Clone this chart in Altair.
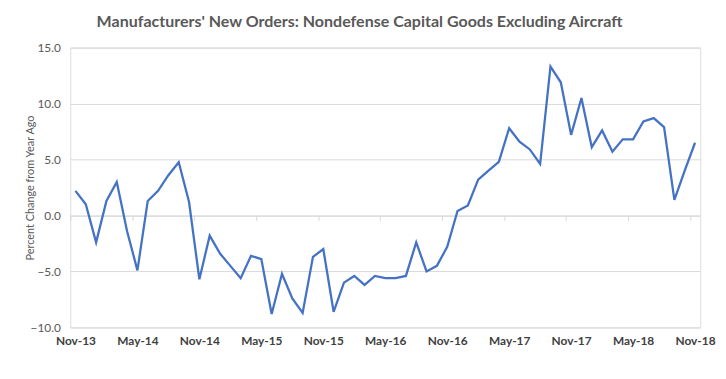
import altair as alt
import pandas as pd

title_text = "Manufacturers' New Orders: Nondefense Capital Goods Excluding Aircraft"
y_title = "Percent Change from Year Ago"

months = list(pd.date_range("2013-11-01", "2018-11-01", freq="MS").strftime("%b-%y"))
values = [2.2, 1.0, -2.4, 1.3, 3.0, -1.4, -4.9, 1.3, 2.2, 3.6, 4.75, 1.2,
          -5.7, -1.8, -3.4, -4.5, -5.6, -3.6, -3.9, -8.8, -5.2, -7.4, -8.7, -3.7,
          -3.0, -8.6, -6.0, -5.4, -6.2, -5.4, -5.6, -5.6, -5.4, -2.4, -5.0, -4.5,
          -2.8, 0.4, 0.9, 3.2, 4.0, 4.8, 7.8, 6.6, 5.9, 4.6, 13.3, 11.9,
          7.2, 10.5, 6.1, 7.6, 5.7, 6.8, 6.8, 8.4, 8.7, 7.9, 1.4, 4.0, 6.5]
y_ticks = [-10, -5, 0, 5, 10, 15]
x_tick_idx = list(range(0, 61, 6))
x_tick_labels = [months[i] for i in x_tick_idx]

df = pd.DataFrame({"idx": list(range(len(values))), "month": months, "value": values})

W, H = 637, 283
half = W / 61 / 2
zero_off = H * 10 / 25

label_expr = "[" + ",".join("'%s'" % s for s in x_tick_labels) + "][round(datum.value/6)]"

chart = alt.Chart(df).mark_line(color="#4472C4", strokeWidth=2.3).encode(
    x=alt.X("idx:Q", scale=alt.Scale(domain=[-0.5, 60.5], nice=False, zero=False),
            axis=alt.Axis(values=x_tick_idx, labelExpr=label_expr, title=None, grid=False,
                          orient="bottom", offset=-zero_off, domainColor="#d9d9d9",
                          tickColor="#d9d9d9", tickSize=5, tickOffset=-half, labelOffset=half,
                          labelPadding=zero_off + 3, labelFont="Lato", labelFontSize=12,
                          labelFontWeight="bold", labelColor="#404040")),
    y=alt.Y("value:Q", scale=alt.Scale(domain=[-10, 15], nice=False),
            axis=alt.Axis(values=y_ticks, format=".1f", title=y_title, domain=False, ticks=False,
                          gridColor="#d9d9d9", labelFont="Lato", labelFontSize=12,
                          labelColor="#595959", labelPadding=10, titleFont="Lato",
                          titleFontSize=11, titleFontWeight="normal", titleColor="#595959",
                          titlePadding=-5)),
).properties(
    width=W, height=H,
    title=alt.TitleParams(title_text, font="Lato", fontSize=16.2, fontWeight="bold",
                          color="#595959", anchor="middle", dx=-26, offset=12),
    autosize=alt.AutoSizeParams(type="none"),
    padding={"left": 63, "top": 38, "right": 18, "bottom": 40},
).configure_view(stroke=None).configure(background="white")

chart.save("out.html", embed_options={"renderer": "svg", "actions": False})
